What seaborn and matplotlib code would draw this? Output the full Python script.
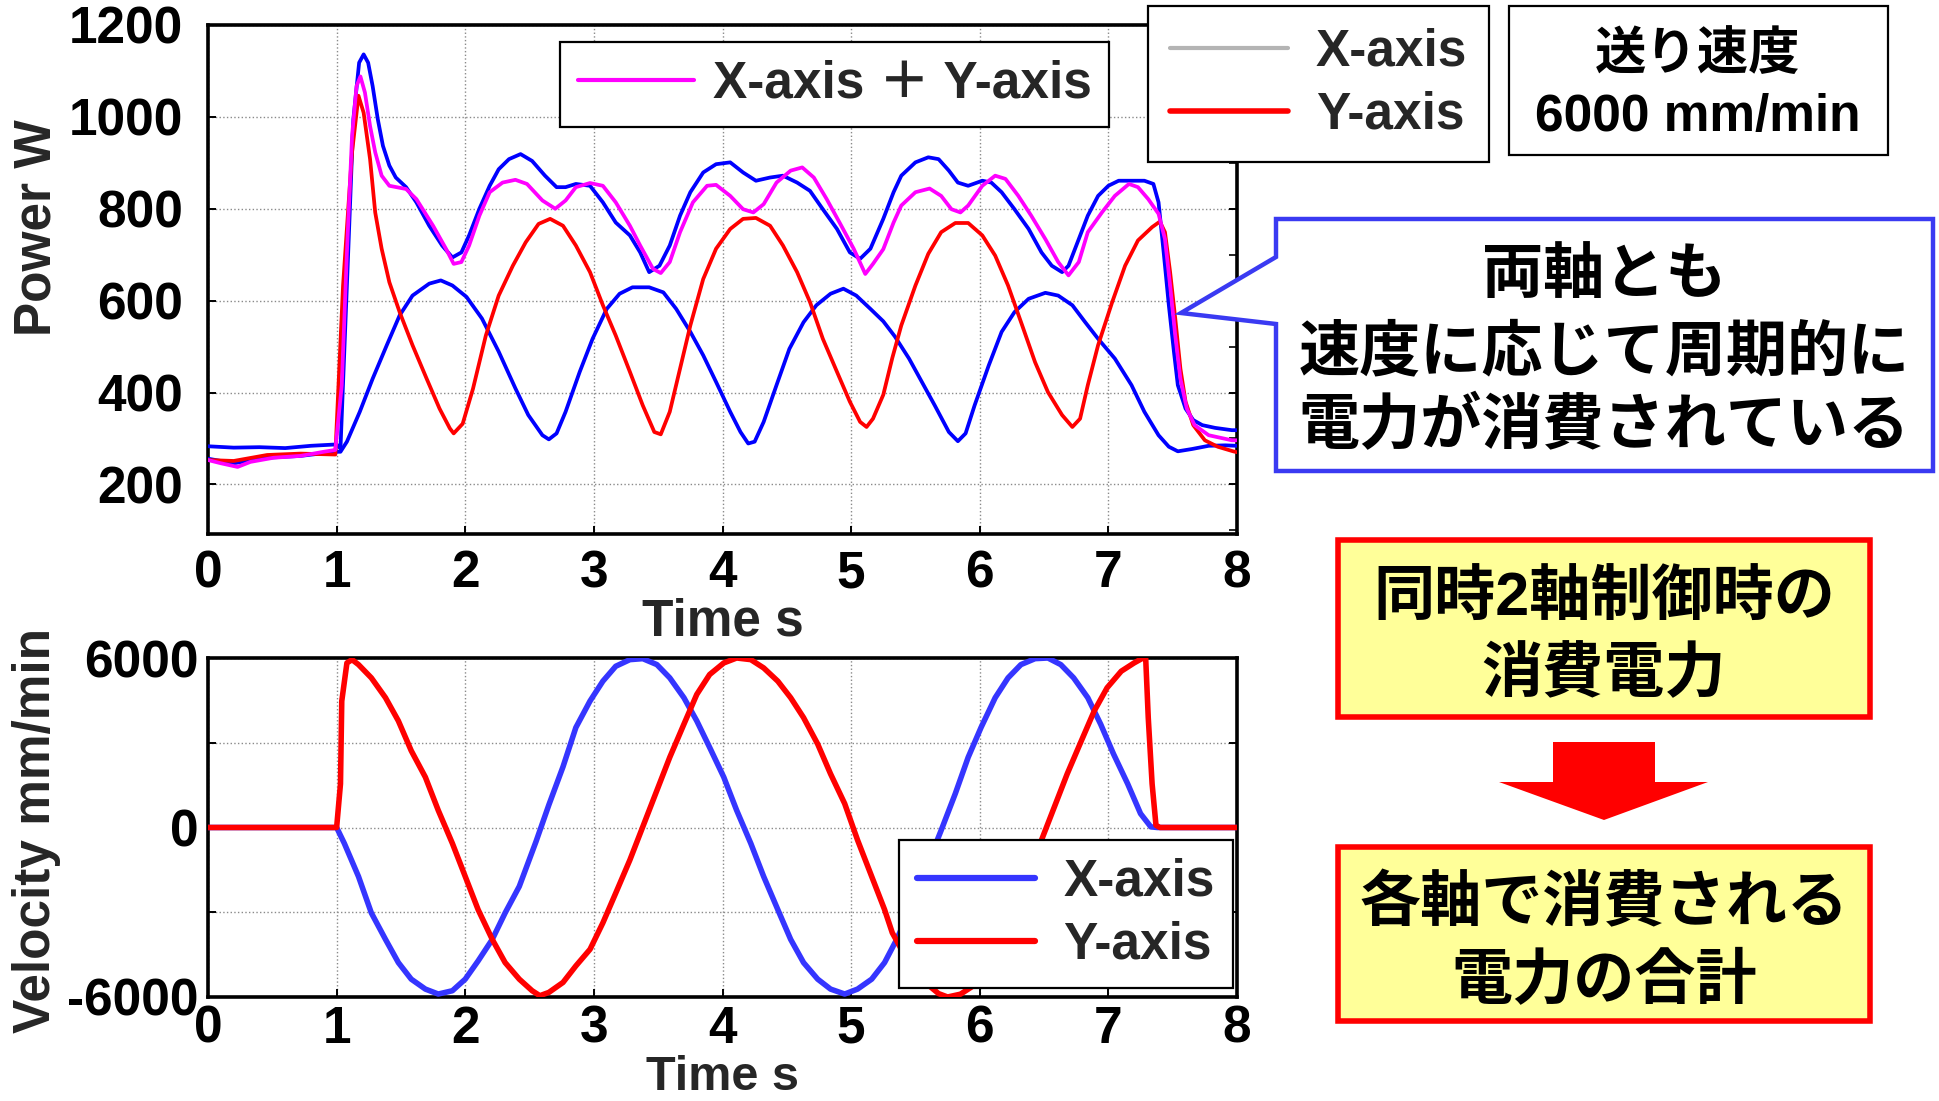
import matplotlib
matplotlib.use("Agg")
import matplotlib.pyplot as plt
from matplotlib.lines import Line2D
from matplotlib.patches import Polygon, Rectangle
from matplotlib.ticker import MultipleLocator, FixedLocator, FixedFormatter
import seaborn as sns

# ---------------- power (W) ----------------
# total measured power
p_total_t = [0.00, 0.20, 0.40, 0.60, 0.80, 1.00, 1.03, 1.09, 1.13, 1.175,
             1.21, 1.245, 1.28, 1.32, 1.36, 1.41, 1.46, 1.54, 1.62, 1.72,
             1.82, 1.90, 1.97, 2.03, 2.11, 2.19, 2.26, 2.34, 2.43, 2.52,
             2.62, 2.71, 2.78, 2.86, 2.97, 3.07, 3.17, 3.28, 3.36, 3.43,
             3.51, 3.59, 3.67, 3.75, 3.85, 3.95, 4.06, 4.16, 4.26, 4.37,
             4.47, 4.58, 4.68, 4.78, 4.89, 4.99, 5.07, 5.15, 5.25, 5.33,
             5.39, 5.50, 5.60, 5.68, 5.76, 5.83, 5.91, 6.02, 6.09, 6.17,
             6.27, 6.38, 6.48, 6.56, 6.64, 6.69, 6.77, 6.84, 6.92, 7.00,
             7.08, 7.18, 7.28, 7.35, 7.39, 7.43, 7.47, 7.51, 7.54, 7.60,
             7.66, 7.73, 7.83, 7.96, 8.00]
p_total = [283, 280, 281, 279, 284, 287, 278, 705, 995, 1118,
           1136, 1118, 1067, 995, 937, 894, 868, 847, 814, 763,
           720, 694, 705, 742, 800, 850, 886, 908, 919, 904,
           872, 847, 847, 854, 850, 814, 770, 742, 705, 662,
           676, 720, 785, 836, 879, 897, 901, 879, 861, 868,
           872, 857, 839, 799, 756, 705, 691, 713, 778, 836,
           872, 901, 912, 908, 883, 857, 850, 861, 857, 836,
           799, 756, 705, 676, 662, 676, 734, 785, 828, 850,
           861, 861, 861, 854, 814, 705, 590, 488, 416, 365,
           340, 329, 323, 318, 318]

# X-axis + Y-axis
p_sum_t = [0.00, 0.10, 0.23, 0.33, 0.51, 0.72, 0.90, 0.99, 1.04, 1.08,
           1.12, 1.155, 1.185, 1.22, 1.26, 1.30, 1.35, 1.41, 1.54, 1.62,
           1.75, 1.85, 1.91, 1.97, 2.03, 2.11, 2.19, 2.29, 2.39, 2.48,
           2.60, 2.70, 2.78, 2.86, 2.97, 3.07, 3.17, 3.28, 3.36, 3.46,
           3.52, 3.59, 3.67, 3.77, 3.88, 3.95, 4.06, 4.16, 4.24, 4.32,
           4.42, 4.53, 4.62, 4.71, 4.81, 4.91, 5.02, 5.11, 5.17, 5.25,
           5.33, 5.39, 5.50, 5.61, 5.70, 5.78, 5.85, 5.91, 6.02, 6.12,
           6.20, 6.30, 6.40, 6.51, 6.61, 6.69, 6.77, 6.84, 6.95, 7.05,
           7.16, 7.23, 7.31, 7.39, 7.44, 7.48, 7.52, 7.56, 7.61, 7.67,
           7.78, 7.96, 8.00]
p_sum = [253, 246, 238, 249, 258, 262, 271, 275, 416, 705,
         959, 1067, 1088, 1053, 980, 923, 872, 850, 843, 821,
         763, 713, 680, 684, 720, 785, 836, 857, 863, 854,
         818, 800, 818, 847, 856, 850, 814, 763, 720, 669,
         660, 684, 749, 814, 850, 852, 828, 799, 792, 810,
         857, 883, 890, 868, 821, 770, 713, 658, 680, 712,
         770, 807, 836, 844, 828, 799, 792, 807, 850, 872,
         865, 828, 785, 734, 684, 655, 684, 749, 792, 828,
         854, 847, 821, 789, 734, 633, 524, 430, 365, 329,
         307, 296, 296]

# Y-axis power
p_y_t = [0.00, 0.20, 0.46, 0.72, 0.99, 1.05, 1.12, 1.17, 1.21, 1.26,
         1.30, 1.35, 1.41, 1.49, 1.59, 1.70, 1.80, 1.88, 1.91, 1.98,
         2.06, 2.16, 2.26, 2.37, 2.47, 2.57, 2.66, 2.76, 2.86, 2.97,
         3.07, 3.17, 3.28, 3.38, 3.47, 3.52, 3.59, 3.67, 3.75, 3.85,
         3.95, 4.06, 4.16, 4.26, 4.37, 4.47, 4.58, 4.68, 4.78, 4.89,
         4.99, 5.07, 5.12, 5.17, 5.25, 5.32, 5.39, 5.50, 5.60, 5.70,
         5.81, 5.91, 6.02, 6.12, 6.22, 6.33, 6.43, 6.53, 6.64, 6.72,
         6.78, 6.84, 6.92, 7.03, 7.13, 7.23, 7.34, 7.40, 7.44, 7.48,
         7.52, 7.56, 7.60, 7.66, 7.75, 7.85, 7.97, 8.00]
p_y = [253, 251, 264, 267, 265, 633, 923, 1046, 1009, 908,
       792, 713, 640, 575, 503, 430, 365, 322, 311, 332,
       408, 524, 611, 676, 727, 767, 778, 763, 720, 662,
       590, 524, 445, 372, 314, 309, 358, 452, 546, 647,
       713, 756, 778, 780, 763, 720, 662, 597, 517, 445,
       380, 336, 325, 343, 395, 475, 546, 633, 702, 749,
       769, 769, 742, 698, 633, 546, 466, 401, 351, 325,
       343, 416, 503, 597, 676, 731, 760, 772, 749, 662,
       561, 452, 380, 329, 296, 282, 272, 270]

# X-axis power
p_x_t = [0.00, 0.20, 0.46, 0.72, 0.99, 1.03, 1.08, 1.18, 1.28, 1.39,
         1.49, 1.59, 1.72, 1.81, 1.90, 2.01, 2.13, 2.26, 2.39, 2.49,
         2.60, 2.65, 2.71, 2.78, 2.89, 2.99, 3.10, 3.20, 3.30, 3.43,
         3.54, 3.64, 3.75, 3.85, 3.95, 4.06, 4.14, 4.20, 4.25, 4.32,
         4.42, 4.52, 4.63, 4.73, 4.84, 4.94, 5.04, 5.15, 5.25, 5.34,
         5.45, 5.55, 5.65, 5.76, 5.83, 5.89, 5.96, 6.07, 6.17, 6.27,
         6.38, 6.51, 6.61, 6.72, 6.82, 6.92, 7.05, 7.18, 7.28, 7.39,
         7.47, 7.54, 7.65, 7.78, 7.91, 8.00]
p_x = [256, 246, 258, 262, 271, 271, 293, 358, 430, 503,
       568, 611, 637, 644, 633, 608, 561, 489, 409, 351,
       307, 298, 311, 358, 445, 517, 582, 615, 629, 629,
       618, 582, 532, 481, 423, 358, 314, 289, 293, 336,
       416, 495, 553, 590, 615, 626, 611, 582, 555, 522,
       474, 423, 372, 314, 294, 311, 372, 459, 532, 575,
       604, 617, 611, 590, 553, 517, 474, 416, 358, 307,
       282, 272, 277, 284, 285, 284]

# ---------------- feed velocity (mm/min) ----------------
v_x_t = [0.00, 1.00, 1.06, 1.17, 1.27, 1.38, 1.48, 1.58, 1.69, 1.79,
         1.90, 2.00, 2.10, 2.21, 2.31, 2.42, 2.55, 2.65, 2.76, 2.86,
         2.97, 3.07, 3.17, 3.28, 3.38, 3.49, 3.59, 3.70, 3.80, 3.90,
         4.01, 4.11, 4.22, 4.32, 4.43, 4.53, 4.63, 4.74, 4.84, 4.95,
         5.05, 5.16, 5.26, 5.35, 5.42, 5.52, 5.63, 5.70, 5.81, 5.91,
         6.01, 6.12, 6.22, 6.32, 6.43, 6.53, 6.63, 6.73, 6.84, 6.94,
         7.04, 7.15, 7.25, 7.33, 7.38, 8.00]
v_x = [0, 0, -563, -1735, -3024, -3961, -4782, -5368, -5720, -5895,
       -5778, -5368, -4723, -3961, -3024, -2086, -500, 800, 2150, 3539,
       4477, 5180, 5708, 5942, 5977, 5766, 5297, 4594, 3774, 2836,
       1781, 609, -563, -1735, -2907, -3961, -4782, -5368, -5720, -5895,
       -5720, -5368, -4782, -4000, -3300, -2150, -900, -100, 1200, 2485,
       3539, 4594, 5297, 5766, 5977, 6000, 5766, 5297, 4594, 3657,
       2602, 1547, 492, 23, 0, 0]

v_y_t = [0.00, 1.00, 1.03, 1.04, 1.08, 1.12, 1.17, 1.27, 1.38, 1.48,
         1.58, 1.69, 1.79, 1.90, 2.00, 2.10, 2.21, 2.31, 2.42, 2.52,
         2.58, 2.65, 2.76, 2.86, 2.97, 3.07, 3.17, 3.28, 3.38, 3.49,
         3.59, 3.70, 3.80, 3.90, 4.01, 4.11, 4.22, 4.32, 4.43, 4.53,
         4.63, 4.74, 4.84, 4.95, 5.05, 5.16, 5.26, 5.32, 5.45, 5.58,
         5.68, 5.75, 5.85, 5.99, 6.10, 6.22, 6.35, 6.48, 6.58, 6.68,
         6.79, 6.89, 6.99, 7.10, 7.20, 7.26, 7.29, 7.31, 7.34, 7.37,
         7.40, 8.00]
v_y = [0, 0, 1547, 4477, 5825, 5942, 5766, 5297, 4594, 3774,
       2719, 1781, 609, -563, -1735, -2907, -3961, -4782, -5368, -5778,
       -5954, -5837, -5485, -4899, -4313, -3375, -2321, -1149, 23, 1313,
       2485, 3657, 4711, 5415, 5825, 6000, 5942, 5649, 5180, 4594,
       3891, 2954, 1899, 844, -445, -1735, -2907, -3727, -4800, -5500,
       -5880, -6000, -5900, -5485, -4700, -3300, -1800, -445, 727, 1899,
       3071, 4125, 4946, 5532, 5825, 5977, 6000, 3891, 1547, 82,
       0, 0]

time_ticks = [0, 1, 2, 3, 4, 5, 6, 7, 8]
power_ticks = [200, 400, 600, 800, 1000, 1200]
vel_ticks = [-6000, -3000, 0, 3000, 6000]
vel_tick_labels = ["-6000", "", "0", "", "6000"]

# ---------------- styling ----------------
sns.set_theme(style="white")
plt.rcParams["font.family"] = ["Liberation Sans", "Noto Sans CJK JP"]
plt.rcParams["font.weight"] = "bold"
plt.rcParams["axes.labelweight"] = "bold"

W, H = 1939, 1101
fig = plt.figure(figsize=(W / 100, H / 100), dpi=100)


def fx(px):
    return px / W


def fy(py):
    return 1 - py / H


ax_p = fig.add_axes([fx(208), fy(534), fx(1237) - fx(208), fy(25) - fy(534)])
ax_v = fig.add_axes([fx(208), fy(997), fx(1237) - fx(208), fy(658) - fy(997)])

BLUE = "#0000FF"
MAGENTA = "#FF00FF"
RED = "#FF0000"
VBLUE = "#3535FF"


def trace(ax, t, v, color, lw, z):
    sns.lineplot(x=t, y=v, ax=ax, color=color, linewidth=lw, sort=False,
                 estimator=None, legend=False, zorder=z)


trace(ax_p, p_total_t, p_total, BLUE, 2.7, 3)
trace(ax_p, p_x_t, p_x, BLUE, 2.7, 3)
trace(ax_p, p_y_t, p_y, RED, 2.7, 4)
trace(ax_p, p_sum_t, p_sum, MAGENTA, 2.7, 5)

trace(ax_v, v_x_t, v_x, VBLUE, 4.0, 3)
trace(ax_v, v_y_t, v_y, RED, 4.0, 4)

for ax in (ax_p, ax_v):
    ax.set_xlim(0, 8)
    ax.xaxis.set_major_locator(FixedLocator(time_ticks))
    ax.set_axisbelow(True)
    ax.grid(True, which="major", color="#8a8a8a", linestyle=":", linewidth=1.0)
    for s in ax.spines.values():
        s.set_linewidth(2.6)
        s.set_color("black")
    ax.tick_params(axis="both", which="major", direction="in", length=6,
                   width=1.4, colors="black", labelsize=37,
                   left=True, right=True, top=False, bottom=True)

ax_p.set_ylim(92, 1200)
ax_p.yaxis.set_major_locator(FixedLocator(power_ticks))
ax_p.yaxis.set_minor_locator(MultipleLocator(100))
ax_p.tick_params(axis="y", which="minor", direction="in", length=6, width=1.4,
                 left=False, right=True)
ax_p.tick_params(axis="y", pad=18)
ax_p.tick_params(axis="x", pad=11)

ax_v.set_ylim(-6000, 6000)
ax_v.yaxis.set_major_locator(FixedLocator(vel_ticks))
ax_v.yaxis.set_major_formatter(FixedFormatter(vel_tick_labels))
ax_v.tick_params(axis="y", pad=7)
ax_v.tick_params(axis="x", pad=5.5)

ax_p.set_xlabel("Time s", fontsize=37)
ax_p.xaxis.label.set_va("center")
ax_p.xaxis.set_label_coords(0.5, (534 - 622) / 509)
ax_v.set_xlabel("Time s", fontsize=35)
ax_v.xaxis.label.set_va("center")
ax_v.xaxis.set_label_coords(0.5, (997 - 1077) / 339)

ax_p.set_ylabel("Power W", fontsize=37)
ax_p.yaxis.label.set_va("center")
ax_p.yaxis.set_label_coords((37 - 208) / 1029, (534 - 228) / 509)
ax_v.set_ylabel("Velocity mm/min", fontsize=37)
ax_v.yaxis.label.set_va("center")
ax_v.yaxis.set_label_coords((37 - 208) / 1029, (997 - 830) / 339)

# ---------------- legends ----------------
leg_kw = dict(loc="upper left", bbox_transform=fig.transFigure, borderaxespad=0,
              fontsize=37, frameon=True, fancybox=False, framealpha=1,
              edgecolor="black", shadow=False)

leg_sum = ax_p.legend([Line2D([], [], color=MAGENTA, lw=3)], ["X-axis ＋ Y-axis"],
                      bbox_to_anchor=(fx(560), fy(42)), handlelength=2.25,
                      handletextpad=0.37, borderpad=0.35, **leg_kw)
leg_sum.get_frame().set_linewidth(1.6)
ax_p.add_artist(leg_sum)

leg_axes = ax_p.legend([Line2D([], [], color="#B4B4B4", lw=3),
                        Line2D([], [], color=RED, lw=4)],
                       ["X-axis", "Y-axis"],
                       bbox_to_anchor=(fx(1148), fy(6)), handlelength=2.3,
                       handletextpad=0.55, borderpad=0.42, labelspacing=0.28,
                       **leg_kw)
leg_axes.get_frame().set_linewidth(1.6)

leg_vel = ax_v.legend([Line2D([], [], color=VBLUE, lw=4.5),
                       Line2D([], [], color=RED, lw=4.5)],
                      ["X-axis", "Y-axis"],
                      bbox_to_anchor=(fx(899), fy(840)), handlelength=2.3,
                      handletextpad=0.55, borderpad=0.35, labelspacing=0.27,
                      **leg_kw)
leg_vel.get_frame().set_linewidth(1.6)

# ---------------- annotation panels ----------------
def fig_poly(points, **kw):
    fig.add_artist(Polygon([(fx(x), fy(y)) for x, y in points], closed=True,
                           transform=fig.transFigure, **kw))


def fig_rect(x0, y0, x1, y1, **kw):
    fig.add_artist(Rectangle((fx(x0), fy(y1)), fx(x1) - fx(x0), fy(y0) - fy(y1),
                             transform=fig.transFigure, **kw))


def fig_label(x, y, s, size):
    fig.text(fx(x), fy(y), s, ha="center", va="center", fontsize=size,
             fontweight="bold", color="black", zorder=6)


# feed speed box
fig_rect(1509, 6, 1888, 155, facecolor="white", edgecolor="black", lw=1.6)
fig_label(1698, 55, "送り速度", 37)
fig_label(1698, 118, "6000 mm/min", 37)

# speech-bubble note
fig_poly([(1276, 219), (1933, 219), (1933, 471), (1276, 471),
          (1276, 324), (1181, 313), (1276, 257)],
         facecolor="white", edgecolor="#3a3af2", lw=3.2, joinstyle="miter")
fig_label(1604, 278, "両軸とも", 44)
fig_label(1604, 355, "速度に応じて周期的に", 44)
fig_label(1604, 428, "電力が消費されている", 44)

# yellow boxes and down arrow
fig_rect(1338, 540, 1870, 717, facecolor="#FFFF99", edgecolor=RED, lw=4)
fig_label(1604, 600, "同時2軸制御時の", 44)
fig_label(1604, 676, "消費電力", 44)

fig_poly([(1553, 742), (1655, 742), (1655, 782), (1708, 782), (1604, 820),
          (1499, 782), (1553, 782)], facecolor=RED, edgecolor="none")

fig_rect(1338, 847, 1870, 1021, facecolor="#FFFF99", edgecolor=RED, lw=4)
fig_label(1604, 905, "各軸で消費される", 44)
fig_label(1604, 983, "電力の合計", 44)

fig.savefig("out.png", dpi=100)
